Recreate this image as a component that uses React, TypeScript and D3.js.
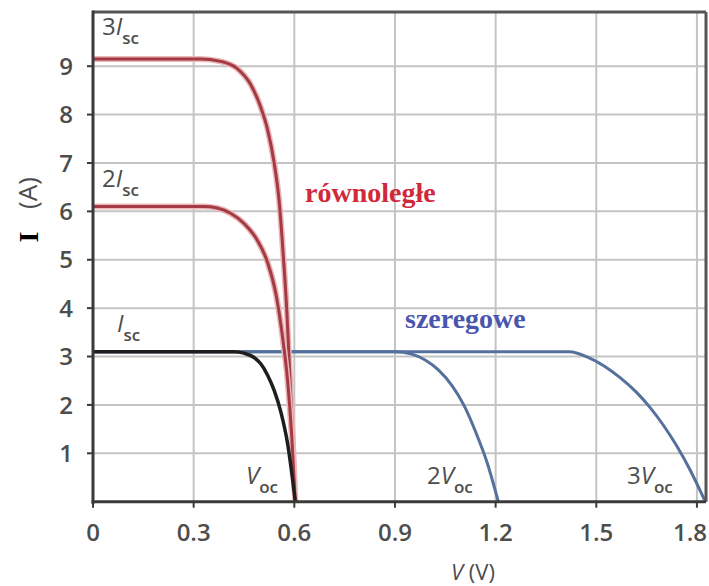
import React from 'react';
import * as d3 from 'd3';

const xTicks = [0, 0.3, 0.6, 0.9, 1.2, 1.5, 1.8];
const xTickLabels = ['0', '0.3', '0.6', '0.9', '1.2', '1.5', '1.8'];
const yTicks = [1, 2, 3, 4, 5, 6, 7, 8, 9];

// single cell (black)
const singleV = [0, 0.42, 0.45, 0.48, 0.5, 0.52, 0.54, 0.56, 0.58, 0.603];
const singleI = [3.1, 3.1, 3.07, 2.98, 2.85, 2.62, 2.3, 1.85, 1.2, 0];
// two in parallel (red)
const par2V = [0, 0.33, 0.37, 0.41, 0.45, 0.49, 0.52, 0.545, 0.565, 0.58, 0.592, 0.603];
const par2I = [6.1, 6.1, 6.07, 5.96, 5.75, 5.4, 4.95, 4.3, 3.4, 2.5, 1.4, 0];
// three in parallel (red)
const par3V = [0, 0.32, 0.38, 0.43, 0.47, 0.5, 0.52, 0.54, 0.555, 0.567, 0.578, 0.588, 0.597, 0.603];
const par3I = [9.15, 9.15, 9.1, 8.95, 8.62, 8.15, 7.7, 7.0, 6.2, 5.1, 3.9, 2.4, 1.05, 0];
// two in series (blue)
const ser2V = [0, 0.9, 0.95, 0.99, 1.03, 1.07, 1.105, 1.14, 1.175, 1.208];
const ser2I = [3.1, 3.1, 3.05, 2.93, 2.72, 2.4, 2.0, 1.45, 0.8, 0];
// three in series (blue)
const ser3V = [0, 1.42, 1.474, 1.522, 1.57, 1.62, 1.66, 1.7, 1.74, 1.78, 1.825];
const ser3I = [3.1, 3.1, 2.99, 2.81, 2.57, 2.26, 1.95, 1.58, 1.15, 0.65, 0];

const W = 709, H = 586;
const left = 93, right = 706, top = 12, bottom = 501.7;

const x = d3.scaleLinear().domain([0, 1.827]).range([left, right]);
const y = d3.scaleLinear().domain([0, 10.12]).range([bottom, top]);

const zip = (vs: number[], is: number[]) => vs.map((v, i) => [v, is[i]] as [number, number]);
const line = d3.line<[number, number]>().x(d => x(d[0])).y(d => y(d[1])).curve(d3.curveMonotoneX);

const gray = '#4d4d4d';
const sans = '"Open Sans", sans-serif';
const serif = '"Liberation Serif", "Times New Roman", serif';

function CurveLabel({ px, py, pre, main, sub }: { px: number; py: number; pre: string; main: string; sub: string }) {
  return (
    <text x={px} y={py} fontFamily={sans} fontSize={24} fill={gray}>
      {pre}
      <tspan fontStyle="italic">{main}</tspan>
      <tspan fontSize={17} fontWeight={600} dy={9}>{sub}</tspan>
    </text>
  );
}

export default function App() {
  const red = '#a33a44';
  const redHalo = '#eab7ba';
  const blue = '#56709c';
  return (
    <svg width={W} height={H} style={{ position: 'absolute', left: 0, top: 0, background: '#fff' }}>
      <rect x={0} y={0} width={W} height={H} fill="#fff" />
      {/* grid */}
      {xTicks.slice(1).map(t => (
        <line key={'gx' + t} x1={x(t)} x2={x(t)} y1={top} y2={bottom} stroke="#c4c4c4" strokeWidth={2} />
      ))}
      {yTicks.map(t => (
        <line key={'gy' + t} x1={left} x2={right} y1={y(t)} y2={y(t)} stroke="#c4c4c4" strokeWidth={2} />
      ))}
      {/* series curves (blue) */}
      <path d={line(zip(ser3V, ser3I))!} fill="none" stroke={blue} strokeWidth={3} />
      <path d={line(zip(ser2V, ser2I))!} fill="none" stroke={blue} strokeWidth={3} />
      {/* parallel curves (red) */}
      {[zip(par3V, par3I), zip(par2V, par2I)].map((d, i) => (
        <g key={'r' + i}>
          <path d={line(d)!} fill="none" stroke={redHalo} strokeWidth={6} />
          <path d={line(d)!} fill="none" stroke={red} strokeWidth={3} />
        </g>
      ))}
      {/* single cell */}
      <path d={line(zip(singleV, singleI))!} fill="none" stroke="#1e1e1e" strokeWidth={3.5} />
      {/* frame */}
      <line x1={left} x2={right} y1={top} y2={top} stroke="#555" strokeWidth={3} />
      <line x1={right} x2={right} y1={top} y2={bottom} stroke="#555" strokeWidth={3} />
      <line x1={left} x2={left} y1={top - 1.5} y2={bottom + 2} stroke="#3a3a3a" strokeWidth={3} />
      <line x1={left - 1.5} x2={right} y1={bottom} y2={bottom} stroke="#3a3a3a" strokeWidth={3} />
      {/* ticks */}
      {yTicks.map(t => (
        <line key={'ty' + t} x1={left - 6} x2={left} y1={y(t)} y2={y(t)} stroke="#3a3a3a" strokeWidth={2} />
      ))}
      {xTicks.map(t => (
        <line key={'tx' + t} x1={x(t)} x2={x(t)} y1={bottom} y2={bottom + 6} stroke="#3a3a3a" strokeWidth={2} />
      ))}
      {/* tick labels */}
      {yTicks.map(t => (
        <text key={'ly' + t} x={73} y={y(t)} dy="0.36em" textAnchor="end" fontFamily={sans} fontWeight={600} fontSize={24} fill={gray}>
          {t}
        </text>
      ))}
      {xTicks.map((t, i) => {
        const last = i === xTicks.length - 1;
        return (
          <text key={'lx' + t} x={last ? 707 : x(t)} y={541} textAnchor={last ? 'end' : 'middle'} fontFamily={sans} fontWeight={600} fontSize={24} fill={gray}>
            {xTickLabels[i]}
          </text>
        );
      })}
      {/* axis titles */}
      <text x={473} y={580} textAnchor="middle" fontFamily={sans} fontSize={22} fill={gray}>
        <tspan fontStyle="italic">V</tspan> (V)
      </text>
      <text transform="translate(38,237) rotate(-90)" textAnchor="middle" fontFamily={serif} fontWeight="bold" fontSize={28} fill="#000">
        I
      </text>
      <text transform="translate(37,193) rotate(-90)" textAnchor="middle" fontFamily={sans} fontSize={26} fill={gray}>
        (A)
      </text>
      {/* curve labels */}
      <CurveLabel px={102} py={35} pre="3" main="I" sub="sc" />
      <CurveLabel px={102} py={187} pre="2" main="I" sub="sc" />
      <CurveLabel px={117} py={332} pre="" main="I" sub="sc" />
      <CurveLabel px={246} py={484} pre="" main="V" sub="oc" />
      <CurveLabel px={427} py={484} pre="2" main="V" sub="oc" />
      <CurveLabel px={627} py={484} pre="3" main="V" sub="oc" />
      <text x={305} y={202} fontFamily={serif} fontWeight="bold" fontSize={28} fill="#d0293a">
        równoległe
      </text>
      <text x={405} y={328} fontFamily={serif} fontWeight="bold" fontSize={28} fill="#4a55ad">
        szeregowe
      </text>
    </svg>
  );
}
